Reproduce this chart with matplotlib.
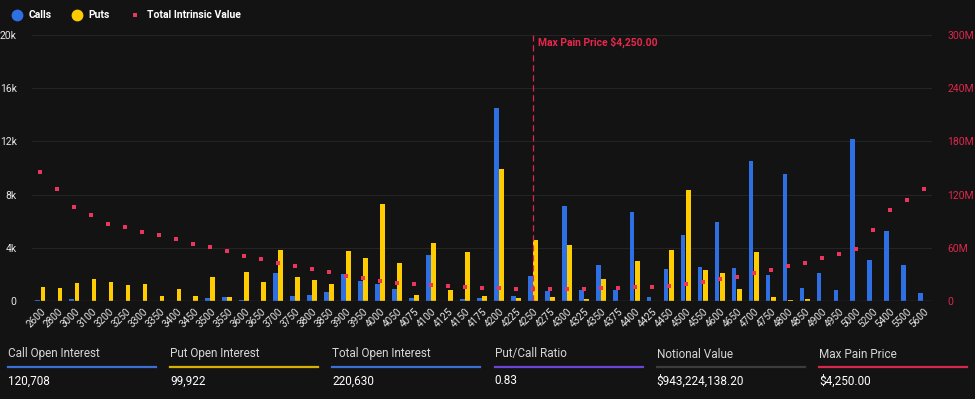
import matplotlib
matplotlib.use("Agg")
import matplotlib.pyplot as plt
from matplotlib.lines import Line2D
import numpy as np

plt.rcParams['font.family'] = ['Roboto', 'DejaVu Sans']

strikes = ["2600", "2800", "3000", "3100", "3200", "3250", "3300", "3350", "3400", "3450",
           "3500", "3550", "3600", "3650", "3700", "3750", "3800", "3850", "3900", "3950",
           "4000", "4050", "4075", "4100", "4125", "4150", "4175", "4200", "4225", "4250",
           "4275", "4300", "4325", "4350", "4375", "4400", "4425", "4450", "4500", "4550",
           "4600", "4650", "4700", "4750", "4800", "4850", "4900", "4950", "5000", "5200",
           "5400", "5500", "5600"]

calls = [60, 0, 150, 0, 0, 0, 0, 0, 0, 0,
         230, 280, 80, 0, 2140, 350, 480, 680, 2010, 1530,
         1280, 880, 200, 3450, 0, 180, 200, 14500, 400, 1890,
         750, 7170, 800, 2720, 860, 6690, 280, 2390, 4980, 2520,
         5910, 2470, 10490, 1940, 9560, 1000, 2090, 830, 12200, 3070,
         5260, 2740, 630]

puts = [1080, 1000, 1330, 1660, 1410, 1200, 1280, 400, 880, 350,
        1810, 280, 2190, 1410, 3850, 1810, 1580, 1280, 3770, 3250,
        7300, 2840, 480, 4380, 800, 3650, 400, 9940, 200, 4580,
        330, 4200, 130, 1660, 0, 2990, 0, 3850, 8380, 2340,
        2090, 930, 3650, 280, 80, 150, 0, 0, 0, 0,
        0, 0, 0]

intrinsic_m = [146, 126.5, 106, 97, 87, 83, 78, 74, 69.5, 64.5,
               60.4, 56, 51, 47, 43, 39, 36, 32.3, 28.5, 25.4,
               22, 20, 19.4, 18.2, 17, 16.3, 15.2, 14.4, 14, 14,
               14, 14, 14, 15.2, 15.2, 16, 16.3, 17, 19.4, 21.3,
               24.3, 27.3, 31.1, 35.3, 39.5, 43.3, 48.2, 53.5, 58.5, 80.5,
               102.5, 114.3, 126.8]

max_pain_strike = "4250"
max_pain_label = "Max Pain Price $4,250.00"

left_ticks = [0, 4000, 8000, 12000, 16000, 20000]
left_tick_labels = ["0", "4k", "8k", "12k", "16k", "20k"]
right_ticks = [0, 60, 120, 180, 240, 300]
right_tick_labels = ["0", "60M", "120M", "180M", "240M", "300M"]

stat_labels = ["Call Open Interest", "Put Open Interest", "Total Open Interest",
               "Put/Call Ratio", "Notional Value", "Max Pain Price"]
stat_values = ["120,708", "99,922", "220,630", "0.83", "$943,224,138.20", "$4,250.00"]
stat_colors = ["#3b6fd6", "#d8b000", "#3b6fd6", "#6b45d6", "#3c3c3c", "#d8264c"]

BG = "#131313"
BLUE = "#2f6fe4"
YELLOW = "#ffcc00"
RED = "#e8365d"
W, H = 975, 399

fig = plt.figure(figsize=(W / 100, H / 100), dpi=100, facecolor=BG)
ax = fig.add_axes([32 / W, 1 - 301 / H, 900 / W, 266 / H])
ax.set_facecolor(BG)

x = np.arange(len(strikes))
bw = 0.28
ax.bar(x - 0.16, calls, width=bw, color=BLUE, zorder=3)
ax.bar(x + 0.15, puts, width=bw, color=YELLOW, zorder=3)

ax.set_xlim(-0.5, len(strikes) - 0.5)
ax.set_ylim(0, 20000)
ax.set_yticks(left_ticks)
ax.set_yticklabels(left_tick_labels)
ax.grid(axis='y', color="#242424", lw=0.8, zorder=0)
ax.axhline(0, color="#3a3a3a", lw=1, zorder=4)
for s in ax.spines.values():
    s.set_visible(False)
ax.tick_params(axis='y', length=0, pad=11, colors="#e6e6e6", labelsize=7.5)
ax.set_xticks(x)
ax.set_xticklabels(strikes, rotation=45, ha='right', rotation_mode='anchor')
ax.tick_params(axis='x', length=0, pad=4, colors="#e6e6e6", labelsize=7.2)

ax2 = ax.twinx()
ax2.set_ylim(0, 300)
ax2.set_yticks(right_ticks)
ax2.set_yticklabels(right_tick_labels)
ax2.tick_params(axis='y', length=0, pad=11, colors="#e0264c", labelsize=7.5)
for s in ax2.spines.values():
    s.set_visible(False)
ax2.plot(x, intrinsic_m, linestyle='none', marker='s', markersize=3.2,
         color=RED, markeredgewidth=0, zorder=5)

mp = strikes.index(max_pain_strike)
ax2.axvline(mp, color="#e0264c", lw=0.9, linestyle=(0, (5, 3)), zorder=6)
ax2.annotate(max_pain_label, xy=(mp, 300), xytext=(4, -5), textcoords='offset points',
             color="#e8264c", fontsize=7.5, fontweight='bold', va='center', ha='left')

# legend
def fy(py):
    return 1 - py / H

fig.add_artist(Line2D([17 / W], [fy(15)], marker='o', markersize=8.5, color=BLUE,
                      markeredgewidth=0, linestyle='none'))
fig.text(29 / W, fy(15), "Calls", color="white", fontsize=7.5, fontweight='bold', va='center')
fig.add_artist(Line2D([77 / W], [fy(15)], marker='o', markersize=8.5, color=YELLOW,
                      markeredgewidth=0, linestyle='none'))
fig.text(88 / W, fy(15), "Puts", color="white", fontsize=7.5, fontweight='bold', va='center')
fig.add_artist(Line2D([135 / W], [fy(15)], marker='s', markersize=3, color=RED,
                      markeredgewidth=0, linestyle='none'))
fig.text(147 / W, fy(15), "Total Intrinsic Value", color="white", fontsize=7.5,
         fontweight='bold', va='center')

# stats panel
for i, (lab, val, col) in enumerate(zip(stat_labels, stat_values, stat_colors)):
    x0 = 8 + 162.2 * i
    fig.text(x0 / W, fy(354), lab, color="#d6d6d6", fontsize=8.5, va='center')
    fig.add_artist(Line2D([x0 / W, (x0 + 148) / W], [fy(367), fy(367)], color=col, lw=1.6))
    fig.text(x0 / W, fy(381), val, color="white", fontsize=8.5, va='center')

fig.savefig("out.png", dpi=100, facecolor=BG)
